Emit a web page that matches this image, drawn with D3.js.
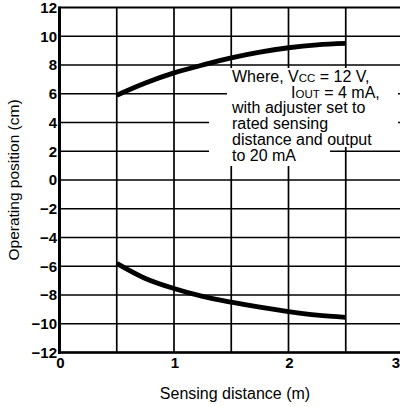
<!DOCTYPE html>
<html><head><meta charset="utf-8">
<script src="https://cdn.jsdelivr.net/npm/d3@7"></script>
<style>body{margin:0;background:#fff}svg{display:block}</style>
</head><body>
<script>
const xTicks = [0, 1, 2, 3];
const yTicks = [-12, -10, -8, -6, -4, -2, 0, 2, 4, 6, 8, 10, 12];
const xGrid = [0.5, 1, 1.5, 2, 2.5, 3];
const upperX = [0.5, 0.75, 1, 1.25, 1.5, 1.75, 2, 2.25, 2.5];
const upperY = [5.9, 6.75, 7.45, 8.0, 8.5, 8.9, 9.2, 9.4, 9.5];
const lowerX = [0.5, 0.75, 1, 1.25, 1.5, 1.75, 2, 2.25, 2.5];
const lowerY = [-5.8, -6.85, -7.55, -8.1, -8.5, -8.85, -9.15, -9.4, -9.55];

const W = 400, H = 407;
const svg = d3.select("body").append("svg").attr("width", W).attr("height", H);
const x = d3.scaleLinear().domain([0, 3]).range([59.5, 403]);
const y = d3.scaleLinear().domain([-12, 12]).range([352.5, 7.5]);
const FONT = "Liberation Sans, Arial, sans-serif";

// grid
svg.append("g").selectAll("line").data(yTicks).join("line")
  .attr("x1", x(0)).attr("x2", x(3)).attr("y1", d => y(d)).attr("y2", d => y(d))
  .attr("stroke", "#000").attr("stroke-width", d => (d === 12 ? 2.2 : 1.7));
svg.append("g").selectAll("line").data(xGrid).join("line")
  .attr("x1", d => x(d)).attr("x2", d => x(d)).attr("y1", y(12)).attr("y2", y(-12))
  .attr("stroke", "#000").attr("stroke-width", 1.7);
// frame left & bottom
svg.append("line").attr("x1", x(0)).attr("x2", x(0)).attr("y1", y(12) - 1).attr("y2", y(-12) + 1.5)
  .attr("stroke", "#000").attr("stroke-width", 3);
svg.append("line").attr("x1", x(0)).attr("x2", x(3)).attr("y1", y(-12)).attr("y2", y(-12))
  .attr("stroke", "#000").attr("stroke-width", 2.6);

// curves
const line = d3.line().x(d => x(d[0])).y(d => y(d[1])).curve(d3.curveCatmullRom.alpha(0.5));
[[upperX, upperY], [lowerX, lowerY]].forEach(([xs, ys]) => {
  svg.append("path").attr("d", line(xs.map((v, i) => [v, ys[i]])))
    .attr("fill", "none").attr("stroke", "#000").attr("stroke-width", 4.8)
    .attr("stroke-linecap", "butt");
});

// white note background
const bg = svg.append("g").attr("fill", "#fff");
bg.append("rect").attr("x", 227).attr("y", 68).attr("width", 171).attr("height", 34);
bg.append("rect").attr("x", 209).attr("y", 101).attr("width", 189).attr("height", 46);
bg.append("rect").attr("x", 209).attr("y", 146).attr("width", 121).attr("height", 20);

// note text
const note = svg.append("text").attr("font-family", FONT).attr("font-size", 16).attr("fill", "#000");
const l1 = note.append("tspan").attr("x", 232).attr("y", 82);
l1.append("tspan").text("Where, V");
l1.append("tspan").attr("font-size", 11.5).text("CC");
l1.append("tspan").text(" = 12 V,");
const l2 = note.append("tspan").attr("x", 291).attr("y", 97.5);
l2.append("tspan").text("I");
l2.append("tspan").attr("font-size", 11.5).text("OUT");
l2.append("tspan").text(" = 4 mA,");
["with adjuster set to", "rated sensing", "distance and output", "to 20 mA"].forEach((t, i) => {
  note.append("tspan").attr("x", 232).attr("y", 113.3 + i * 15.8).text(t);
});

// tick labels
svg.append("g").selectAll("text").data(yTicks).join("text")
  .attr("x", 57).attr("y", d => y(d)).attr("dy", "0.36em")
  .attr("text-anchor", "end").attr("font-family", FONT).attr("font-weight", "bold")
  .attr("font-size", 15).text(d => (d < 0 ? "\u2212" + Math.abs(d) : d));
svg.append("g").selectAll("text").data(xTicks).join("text")
  .attr("x", d => Math.min(x(d) + 1, 396)).attr("y", 368)
  .attr("text-anchor", "middle").attr("font-family", FONT).attr("font-weight", "bold")
  .attr("font-size", 15).text(d => d);

// axis titles
svg.append("text").attr("x", 235).attr("y", 399).attr("text-anchor", "middle")
  .attr("font-family", FONT).attr("font-size", 16).text("Sensing distance (m)");
svg.append("text").attr("transform", "translate(19,180) rotate(-90)").attr("text-anchor", "middle")
  .attr("font-family", FONT).attr("font-size", 15.5).text("Operating position (cm)");
</script>
</body></html>
